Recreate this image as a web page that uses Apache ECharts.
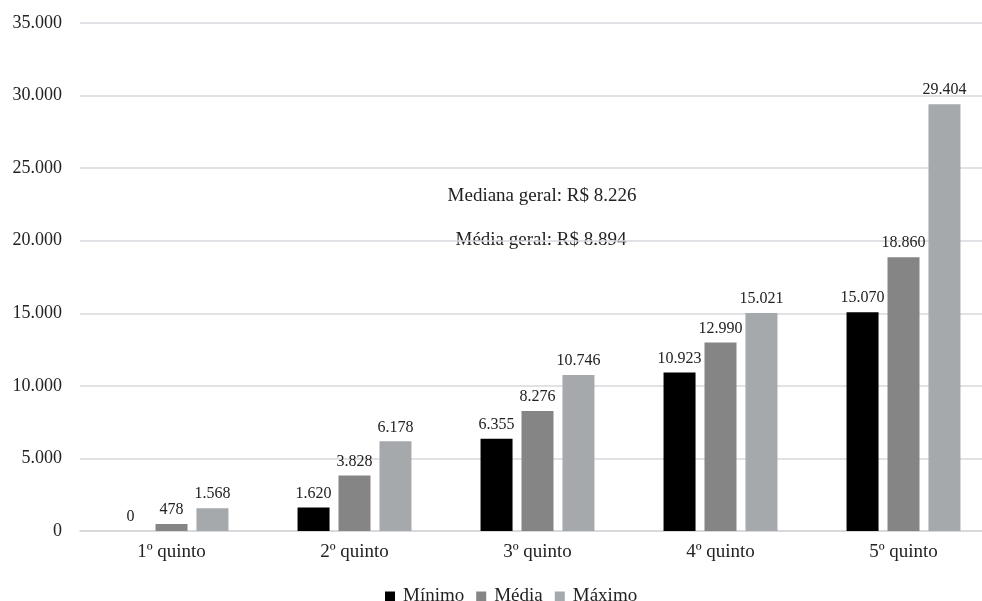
<!DOCTYPE html>
<html>
<head>
<meta charset="utf-8">
<script src="https://cdn.jsdelivr.net/npm/echarts@6/dist/echarts.min.js"></script>
<style>
  html, body { margin: 0; padding: 0; background: #fff; overflow: hidden; }
  /* canvas is a bit wider than the window so the plot area runs off the right edge */
  #chart { width: 995px; height: 601px; }
</style>
</head>
<body>
<div id="chart"></div>
<script>
// Renda por quinto: valores mínimo, médio e máximo (R$)
const categories = ['1º quinto', '2º quinto', '3º quinto', '4º quinto', '5º quinto'];
const minimo = [0, 1620, 6355, 10923, 15070];
const media = [478, 3828, 8276, 12990, 18860];
const maximo = [1568, 6178, 10746, 15021, 29404];
const seriesNames = ['Mínimo', 'Média', 'Máximo'];
const annotations = ['Mediana geral: R$ 8.226', 'Média geral: R$ 8.894'];

const FONT = '"Liberation Serif", "Times New Roman", serif';
const fmt = v => String(v).replace(/\B(?=(\d{3})+(?!\d))/g, '.');

const chart = echarts.init(document.getElementById('chart'), null, { renderer: 'canvas' });

function barSeries(name, data, color) {
  return {
    name: name,
    type: 'bar',
    data: data,
    barWidth: 32,
    barGap: '28%',
    itemStyle: { color: color },
    label: {
      show: true,
      position: 'top',
      distance: 6,
      color: '#222',
      fontFamily: FONT,
      fontSize: 16,
      formatter: p => fmt(p.value)
    }
  };
}

chart.setOption({
  animation: false,
  backgroundColor: '#fff',
  grid: { left: 80, top: 23, bottom: 70, right: 0, containLabel: false },
  legend: {
    data: seriesNames,
    left: 380,
    top: 582,
    icon: 'rect',
    itemWidth: 10,
    itemHeight: 10,
    itemGap: 12,
    textStyle: { fontFamily: FONT, fontSize: 19, color: '#222', padding: [0, 0, 0, 3] }
  },
  xAxis: {
    type: 'category',
    data: categories,
    axisLine: { lineStyle: { color: '#d6d6da', width: 1.5 } },
    axisTick: { show: false },
    axisLabel: { fontFamily: FONT, fontSize: 19, color: '#222', margin: 12 }
  },
  yAxis: {
    type: 'value',
    min: 0,
    max: 35000,
    interval: 5000,
    axisLine: { show: false },
    axisTick: { show: false },
    splitLine: { lineStyle: { color: '#d9d9de', width: 1.5 } },
    axisLabel: { fontFamily: FONT, fontSize: 18, color: '#222', margin: 18, formatter: fmt }
  },
  graphic: [
    { type: 'text', x: 542, y: 196, style: { text: annotations[0], textAlign: 'center', textVerticalAlign: 'middle', font: '19px ' + FONT, fill: '#222' } },
    { type: 'text', x: 541, y: 240, style: { text: annotations[1], textAlign: 'center', textVerticalAlign: 'middle', font: '19px ' + FONT, fill: '#222' } }
  ],
  series: [
    barSeries(seriesNames[0], minimo, '#000000'),
    barSeries(seriesNames[1], media, '#858585'),
    barSeries(seriesNames[2], maximo, '#a6a9ac')
  ]
});
</script>
</body>
</html>
